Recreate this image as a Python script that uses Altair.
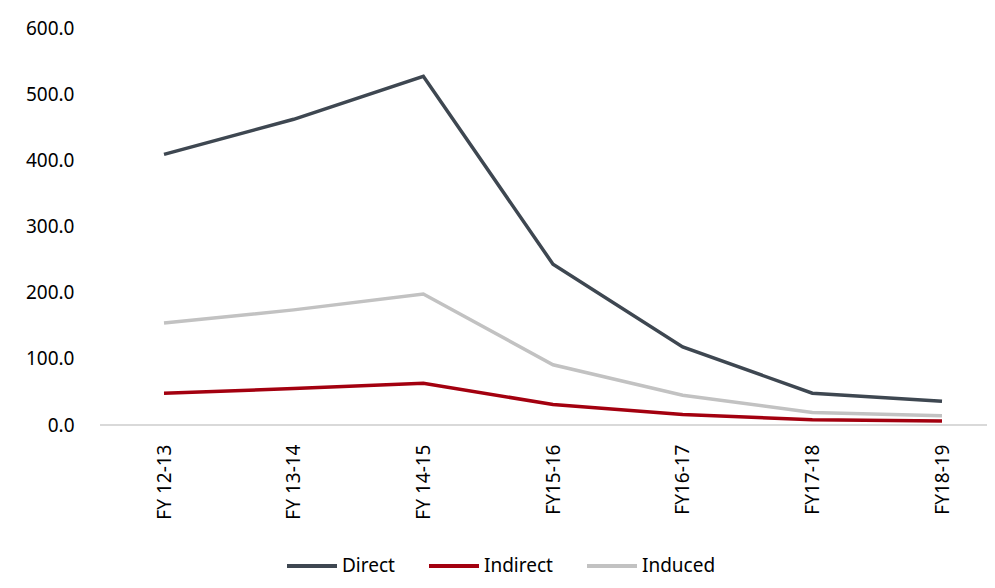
import altair as alt
import pandas as pd

years = ["FY 12-13", "FY 13-14", "FY 14-15", "FY15-16", "FY16-17", "FY17-18", "FY18-19"]
direct = [409, 462, 527, 243, 118, 48, 36]
indirect = [48, 55, 63, 31, 16, 8, 6]
induced = [154, 174, 198, 91, 45, 19, 14]
series = ["Direct", "Indirect", "Induced"]
colors = ["#3e4751", "#a3000f", "#c2c2c2"]

rows = []
for name, vals in zip(series, [direct, indirect, induced]):
    for y, v in zip(years, vals):
        rows.append({"Year": y, "Series": name, "Value": v})
df = pd.DataFrame(rows)

FONT = "Noto Sans"

lines = alt.Chart(df).mark_line(strokeWidth=3.5).encode(
    x=alt.X("Year:N", sort=years, title=None,
            scale=alt.Scale(type="point", range=[64, 842], padding=0),
            axis=alt.Axis(labelAngle=-90, labelAlign="right", labelBaseline="middle",
                          labelPadding=19, ticks=False, domain=False, grid=False,
                          labelFontSize=19, labelColor="#000000", labelFont=FONT)),
    y=alt.Y("Value:Q", title=None,
            scale=alt.Scale(domain=[0, 600], nice=False),
            axis=alt.Axis(values=[0, 100, 200, 300, 400, 500, 600], format=".1f",
                          ticks=False, domain=False, grid=False, labelPadding=26,
                          labelFontSize=19, labelColor="#000000", labelFont=FONT)),
    color=alt.Color("Series:N", sort=series,
                    scale=alt.Scale(domain=series, range=colors),
                    legend=alt.Legend(title=None, orient="none", direction="horizontal",
                                      legendX=185, legendY=511, padding=0,
                                      symbolType="stroke", symbolSize=2500, symbolStrokeWidth=4,
                                      labelFontSize=19, labelFont=FONT, labelColor="#000000",
                                      columnPadding=26, labelOffset=3)),
)

baseline = alt.Chart(df).mark_rule(color="#d9d9d9", strokeWidth=2).encode(
    y=alt.datum(0)
)

chart = alt.layer(baseline, lines).properties(
    width=887, height=397,
    autosize=alt.AutoSizeParams(type="none"),
    padding={"left": 92, "top": 20, "right": 0, "bottom": 155},
).configure_view(stroke=None)

chart.save("out.html", embed_options={"renderer": "svg", "actions": False})
